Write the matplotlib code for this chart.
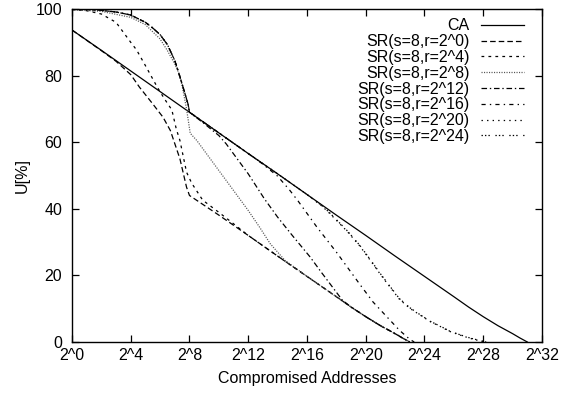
import matplotlib
matplotlib.use("Agg")
import matplotlib.pyplot as plt

plt.rcParams['font.family'] = ['Liberation Sans', 'DejaVu Sans']
plt.rcParams['lines.scale_dashes'] = False

# x values are log2 of compromised addresses
ca_x = [0, 2, 4, 6, 8, 10, 12, 14, 16, 18, 20, 22, 24, 26, 27, 28, 29, 30, 30.5, 31]
ca_y = [93.7, 87.6, 81.4, 75.2, 69.0, 62.8, 56.6, 50.5, 44.3, 38.1, 32.0, 25.8, 19.7, 13.6, 10.5, 7.6, 4.9, 2.5, 1.2, 0]

sr0_x = [0, 1, 2, 3, 4, 4.6, 5.5, 6.2, 6.7, 7.35, 7.8, 8, 10, 12, 14, 16, 18, 19, 20, 21, 22, 22.5, 23]
sr0_y = [93.7, 90.6, 87.5, 84.3, 80.3, 76.5, 71.5, 67.5, 63.5, 55, 46.5, 44, 38.1, 32, 25.8, 19.7, 13.6, 10.5, 7.6, 4.9, 2.5, 1.2, 0]

sr4_x = [0, 1, 2, 3, 4, 4.4, 5, 5.8, 6.3, 6.8, 7.1, 7.35, 7.8, 8.15, 8.9, 10.1, 11, 12, 14, 16, 18, 19, 20, 21, 22, 22.5, 23]
sr4_y = [99.8, 99.5, 98.5, 96.0, 90, 87.7, 83, 76.6, 73, 69.7, 64, 60.5, 51, 47.7, 42.6, 38.6, 35.5, 32, 25.8, 19.7, 13.6, 10.5, 7.6, 4.9, 2.5, 1.2, 0]

sr8_x = [0, 2, 4, 5, 6, 6.5, 7, 7.25, 7.5, 7.8, 8.05, 8.5, 9, 10, 11, 12, 12.8, 13.5, 14.5, 16, 18, 19, 20, 21, 22, 22.5, 23]
sr8_y = [99.8, 99.3, 97.5, 95.3, 91, 87.5, 83.5, 81, 77, 70, 62.7, 60.5, 57.5, 51.5, 45.5, 39.5, 34.3, 29.5, 24.5, 19.7, 13.6, 10.5, 7.6, 4.9, 2.5, 1.2, 0]

sr12_x = [0, 1, 2, 3, 4, 5, 5.5, 6, 6.5, 7, 7.35, 7.7, 7.9, 8, 9, 10, 10.5, 11, 12, 13.1, 14, 15, 16.2, 17, 18.4, 19, 20, 21, 22, 22.5, 23]
sr12_y = [100, 99.9, 99.6, 99.1, 98.2, 96, 94.3, 92.3, 89.3, 84.5, 79.7, 74.5, 71.5, 69, 65.6, 62, 59.5, 56.5, 50.5, 43, 37.5, 32, 25.6, 20.8, 12.6, 10.5, 7.6, 4.9, 2.5, 1.2, 0]

sr16_x = [0, 1, 2, 3, 4, 5, 5.5, 6, 6.5, 7, 7.35, 7.7, 7.9, 8, 10, 12, 13, 14, 14.84, 15.4, 16.66, 18, 19.6, 20.5, 21.6, 22.3, 23, 23.3]
sr16_y = [100, 99.9, 99.6, 99.1, 98.2, 96, 94.3, 92.3, 89.3, 84.5, 79.7, 74.5, 71.5, 69, 62.8, 56.6, 53.4, 49.8, 45.5, 42.3, 34.6, 27, 17.3, 12, 6.8, 3.5, 0.8, 0]

sr20_x = [0, 1, 2, 3, 4, 5, 5.5, 6, 6.5, 7, 7.35, 7.7, 7.9, 8, 10, 12, 14, 16, 17, 17.5, 18.7, 19.6, 20.3, 21, 21.6, 22.3, 23, 23.7, 24.4, 25.1, 25.7, 26.4, 27.1, 27.8, 28.2]
sr20_y = [100, 99.9, 99.6, 99.1, 98.2, 96, 94.3, 92.3, 89.3, 84.5, 79.7, 74.5, 71.5, 69, 62.8, 56.6, 50.5, 44.3, 40.9, 38.8, 33.4, 28.8, 24.6, 20.3, 16.8, 12.8, 10.1, 8.1, 6.1, 4.6, 3.2, 2.1, 1.1, 0.3, 0]

sr24_x = [0, 1, 2, 3, 4, 5, 5.5, 6, 6.5, 7, 7.35, 7.7, 7.9, 8, 10, 12, 14, 16, 17, 17.5, 18.7, 19.6, 20.3, 21, 21.6, 22.3, 23, 23.7, 24.4, 25.1, 25.7, 26.4, 27.1, 27.8, 28.2]
sr24_y = [100, 99.9, 99.6, 99.1, 98.2, 96, 94.3, 92.3, 89.3, 84.5, 79.7, 74.5, 71.5, 69, 62.8, 56.6, 50.5, 44.3, 41.0, 39.0, 33.6, 29.0, 24.8, 20.5, 17.0, 13.0, 10.3, 8.2, 6.2, 4.7, 3.3, 2.2, 1.2, 0.4, 0]

labels = ["CA", "SR(s=8,r=2^0)", "SR(s=8,r=2^4)", "SR(s=8,r=2^8)", "SR(s=8,r=2^12)",
          "SR(s=8,r=2^16)", "SR(s=8,r=2^20)", "SR(s=8,r=2^24)"]
x_tick_exps = [0, 4, 8, 12, 16, 20, 24, 28, 32]
x_tick_labels = ["2^0", "2^4", "2^8", "2^12", "2^16", "2^20", "2^24", "2^28", "2^32"]
y_ticks = [0, 20, 40, 60, 80, 100]

series = [(ca_x, ca_y), (sr0_x, sr0_y), (sr4_x, sr4_y), (sr8_x, sr8_y), (sr12_x, sr12_y),
          (sr16_x, sr16_y), (sr20_x, sr20_y), (sr24_x, sr24_y)]
styles = [
    dict(color="black", linestyle="-"),
    dict(color="black", dashes=(4, 2.2)),
    dict(color="black", dashes=(2, 3)),
    dict(color="#555555", dashes=(0.8, 1.0)),
    dict(color="black", dashes=(4, 2, 1, 2)),
    dict(color="black", dashes=(3, 3, 1, 3)),
    dict(color="black", dashes=(1, 3)),
    dict(color="black", dashes=(1, 1.5, 1, 1.5, 1, 4)),
]

fig = plt.figure(figsize=(5.61, 3.99), dpi=100)
ax = fig.add_axes([0.1283, 0.1429, 0.9661 - 0.1283, 0.9774 - 0.1429])

for (xs, ys), lab, st in zip(series, labels, styles):
    ax.plot([2.0 ** v for v in xs], ys, lw=0.9, label=lab, **st)

ax.set_xscale("log", base=2)
ax.set_xlim(2.0 ** 0, 2.0 ** 32)
ax.set_ylim(0, 100)
ax.set_xticks([2.0 ** e for e in x_tick_exps])
ax.set_xticklabels(x_tick_labels)
ax.minorticks_off()
ax.set_yticks(y_ticks)
ax.set_yticklabels([str(v) for v in y_ticks])

ax.tick_params(axis="both", which="both", direction="in", top=True, right=True,
               length=5, width=0.9, labelsize=11.5)
ax.tick_params(axis="x", pad=4)
ax.tick_params(axis="y", pad=7)
for s in ax.spines.values():
    s.set_linewidth(1.0)

ax.set_xlabel("Compromised Addresses", fontsize=11.5, labelpad=6)
ax.set_ylabel("U[%]", fontsize=11.5, labelpad=4)

leg = ax.legend(loc="upper right", bbox_to_anchor=(0.962, 0.972), markerfirst=False,
                frameon=False, fontsize=11.5, handlelength=2.7, handletextpad=0.7,
                labelspacing=0.05, borderaxespad=0, borderpad=0)

fig.savefig("out.png", dpi=100)
